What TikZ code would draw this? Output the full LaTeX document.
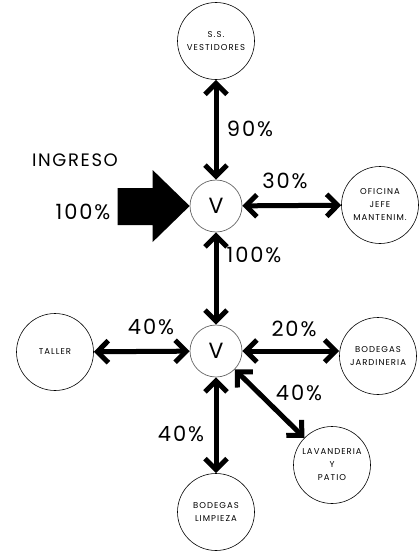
\documentclass[tikz,border=0pt]{standalone}
\usepackage{fontspec}
\setmainfont{Poppins}
\newfontfamily\rotulo[LetterSpace=12]{Poppins}
\newfontfamily\cifra[LetterSpace=9]{Poppins}
\usepackage{tikz}
\usetikzlibrary{arrows.meta, positioning}

\begin{document}
\begin{tikzpicture}[
  x=1pt, y=-1pt,
  sala/.style={
    circle,
    draw=black,
    line width=0.6pt,
    minimum size=77pt,
    inner sep=0pt,
    align=center,
    font=\rotulo\fontsize{8.5}{13}\selectfont
  },
  valvula/.style={
    circle,
    draw=black!60,
    line width=0.7pt,
    minimum size=52pt,
    inner sep=0pt,
    font=\fontsize{22}{22}\selectfont
  },
  pct/.style={font=\cifra\fontsize{21}{21}\selectfont},
  titulo/.style={font=\cifra\fontsize{18}{18}\selectfont},
  flujo/.style={
    {Straight Barb[length=11pt,width=22pt]}-{Straight Barb[length=11pt,width=22pt]},
    line width=5pt
  }
]
\useasboundingbox (0,0) rectangle (420,554);

% nodos de distribucion
\node[valvula] (v1) at (216,206) {V};
\node[valvula] (v2) at (216,351) {V};

% recintos
\node[sala] (vest) at (216,41) {S.S.\\VESTIDORES};
\node[sala] (ofic) at (380,205) {OFICINA\\JEFE\\MANTENIM.};
\node[sala] (taller) at (55,352) {TALLER};
\node[sala] (jard) at (378,356) {BODEGAS\\JARDINERIA};
\node[sala] (lav) at (332,465) {LAVANDERIA\\Y\\PATIO};
\node[sala] (limp) at (216,512) {BODEGAS\\LIMPIEZA};

% ingreso
\fill (v1.west) -- ++(-37,-36) -- ++(0,18) -- ++(-35,0) -- ++(0,37) -- ++(35,0) -- ++(0,17) -- cycle;
\node[titulo] (ingreso) at (75,160) {INGRESO};
\node[pct] (pingreso) at (83,212) {100\%};

% flujos
\draw[flujo] (vest) -- (v1);
\draw[flujo] (v1) -- (ofic);
\draw[flujo] (v1) -- (v2);
\draw[flujo] (taller) -- (v2);
\draw[flujo] (v2) -- (jard.west |- v2);
\draw[flujo] (v2) -- (lav);
\draw[flujo] (v2) -- (limp);

\node[pct] (p90) at (250,129) {90\%};
\node[pct] (p30) at (285,181) {30\%};
\node[pct] (p100) at (254,255) {100\%};
\node[pct] (ptaller) at (151,327) {40\%};
\node[pct] (pjard) at (294,329) {20\%};
\node[pct] (plav) at (299,393) {40\%};
\node[pct] (plimp) at (181,434) {40\%};

\end{tikzpicture}
\end{document}
